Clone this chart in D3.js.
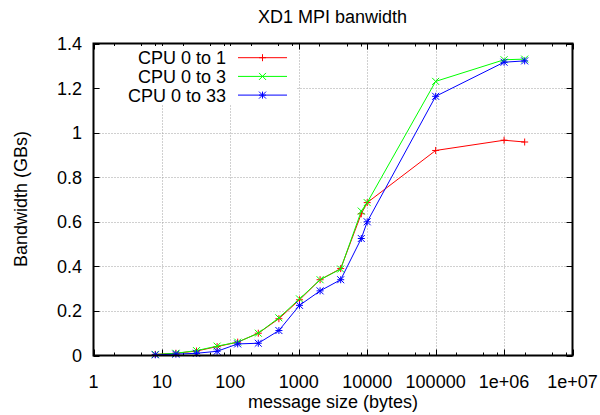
<!DOCTYPE html>
<html>
<head>
<meta charset="utf-8">
<script src="https://cdn.jsdelivr.net/npm/d3@7"></script>
<style>
  body { margin: 0; background: #fff; }
  svg { display: block; font-family: "Liberation Sans", Arial, Helvetica, sans-serif; }
</style>
</head>
<body>
<div id="chart"></div>
<script>
// message sizes (bytes) and bandwidth (GB/s) per CPU pair
var sizes = [8, 16, 32, 64, 128, 256, 512, 1024, 2048, 4096, 8192, 10000, 100000, 1000000, 2000000];
var cpu01 = [0.005, 0.01, 0.02, 0.04, 0.06, 0.10, 0.165, 0.25, 0.34, 0.39, 0.636, 0.686, 0.92, 0.966, 0.958];
var cpu03 = [0.005, 0.01, 0.022, 0.042, 0.06, 0.10, 0.169, 0.254, 0.34, 0.388, 0.648, 0.686, 1.23, 1.327, 1.33];
var cpu033 = [0.003, 0.006, 0.01, 0.019, 0.052, 0.055, 0.112, 0.225, 0.29, 0.34, 0.525, 0.60, 1.163, 1.316, 1.322];

var seriesNames = ["CPU 0 to 1", "CPU 0 to 3", "CPU 0 to 33"];
var seriesColors = ["#ff0000", "#00ff00", "#0000ff"];

var xTicks = [1, 10, 100, 1000, 10000, 100000, 1e6, 1e7];
var xTickLabels = ["1", "10", "100", "1000", "10000", "100000", "1e+06", "1e+07"];
var yTicks = [0, 0.2, 0.4, 0.6, 0.8, 1, 1.2, 1.4];
var yTickLabels = ["0", "0.2", "0.4", "0.6", "0.8", "1", "1.2", "1.4"];

var width = 600, height = 415;
var fontSize = 18;

var x = d3.scaleLog().domain([1, 1e7]).range([93.5, 572.5]);
var y = d3.scaleLinear().domain([0, 1.4]).range([355.5, 43.5]);

var svg = d3.select("#chart").append("svg")
  .attr("width", width)
  .attr("height", height);

// grid
var grid = svg.append("g")
  .attr("stroke", "#a0a0a0")
  .attr("stroke-width", 1)
  .attr("stroke-dasharray", "1,2");

grid.selectAll(".gx")
  .data(xTicks.slice(1, -1))
  .join("line")
    .attr("x1", d => Math.round(x(d)) + 0.5)
    .attr("x2", d => Math.round(x(d)) + 0.5)
    .attr("y1", y(0))
    .attr("y2", y(1.4));

grid.selectAll(".gy")
  .data(yTicks.slice(1, -1))
  .join("line")
    .attr("x1", x(1))
    .attr("x2", x(1e7))
    .attr("y1", d => Math.round(y(d)) + 0.5)
    .attr("y2", d => Math.round(y(d)) + 0.5);

// minor ticks at 2, 5, 8 of each decade
var minor = [];
for (var e = 0; e < 7; e++) {
  [2, 5, 8].forEach(m => minor.push(m * Math.pow(10, e)));
}

var ticks = svg.append("g").attr("stroke", "#000").attr("stroke-width", 1);

ticks.selectAll(".tb")
  .data(xTicks.concat(minor))
  .join("line")
    .attr("x1", d => Math.round(x(d)) + 0.5)
    .attr("x2", d => Math.round(x(d)) + 0.5)
    .attr("y1", y(0))
    .attr("y2", d => y(0) - (xTicks.includes(d) ? 6 : 3));

ticks.selectAll(".tt")
  .data(xTicks.concat(minor))
  .join("line")
    .attr("x1", d => Math.round(x(d)) + 0.5)
    .attr("x2", d => Math.round(x(d)) + 0.5)
    .attr("y1", y(1.4))
    .attr("y2", d => y(1.4) + (xTicks.includes(d) ? 6 : 3));

ticks.selectAll(".tl")
  .data(yTicks)
  .join("line")
    .attr("x1", x(1))
    .attr("x2", x(1) + 6)
    .attr("y1", d => Math.round(y(d)) + 0.5)
    .attr("y2", d => Math.round(y(d)) + 0.5);

ticks.selectAll(".tr")
  .data(yTicks)
  .join("line")
    .attr("x1", x(1e7))
    .attr("x2", x(1e7) - 6)
    .attr("y1", d => Math.round(y(d)) + 0.5)
    .attr("y2", d => Math.round(y(d)) + 0.5);

// tick labels
svg.append("g")
  .attr("font-size", fontSize)
  .attr("text-anchor", "middle")
  .selectAll("text")
  .data(xTicks)
  .join("text")
    .attr("x", d => x(d))
    .attr("y", 387.5)
    .text((d, i) => xTickLabels[i]);

svg.append("g")
  .attr("font-size", fontSize)
  .attr("text-anchor", "end")
  .selectAll("text")
  .data(yTicks)
  .join("text")
    .attr("x", 82)
    .attr("y", d => y(d) + 6.5)
    .text((d, i) => yTickLabels[i]);

// axis titles
svg.append("text")
  .attr("x", 332.5)
  .attr("y", 22.5)
  .attr("font-size", fontSize)
  .attr("text-anchor", "middle")
  .text("XD1 MPI banwidth");

svg.append("text")
  .attr("x", 333)
  .attr("y", 408)
  .attr("font-size", fontSize)
  .attr("text-anchor", "middle")
  .text("message size (bytes)");

svg.append("text")
  .attr("transform", "translate(27,199) rotate(-90)")
  .attr("font-size", fontSize)
  .attr("text-anchor", "middle")
  .text("Bandwidth (GBs)");

// point symbols: +, x, *
function symbol(g, type, cx, cy, color) {
  var r = 3.5;
  var segs = [];
  if (type === 0 || type === 2) segs.push([-r, 0, r, 0], [0, -r, 0, r]);
  if (type === 1 || type === 2) segs.push([-r, -r, r, r], [-r, r, r, -r]);
  segs.forEach(s => {
    g.append("line")
      .attr("x1", cx + s[0]).attr("y1", cy + s[1])
      .attr("x2", cx + s[2]).attr("y2", cy + s[3])
      .attr("stroke", color)
      .attr("stroke-width", 1);
  });
}

// legend background (opaque key box)
svg.append("rect")
  .attr("x", 100)
  .attr("y", 46)
  .attr("width", 197)
  .attr("height", 58)
  .attr("fill", "#fff");

var line = d3.line()
  .x(d => x(d[0]))
  .y(d => y(d[1]));

[cpu01, cpu03, cpu033].forEach((vals, k) => {
  var pts = sizes.map((s, i) => [s, vals[i]]);
  var g = svg.append("g");
  g.append("path")
    .attr("d", line(pts))
    .attr("fill", "none")
    .attr("stroke", seriesColors[k])
    .attr("stroke-width", 1);
  pts.forEach(p => symbol(g, k, x(p[0]), y(p[1]), seriesColors[k]));

  // legend entry
  var ly = 57.7 + k * 18.7;
  svg.append("text")
    .attr("x", 226)
    .attr("y", ly + 6.5)
    .attr("font-size", fontSize)
    .attr("text-anchor", "end")
    .text(seriesNames[k]);
  svg.append("line")
    .attr("x1", 238).attr("x2", 287)
    .attr("y1", ly).attr("y2", ly)
    .attr("stroke", seriesColors[k])
    .attr("stroke-width", 1);
  symbol(svg, k, 262.5, ly, seriesColors[k]);
});

// border
svg.append("rect")
  .attr("x", x(1))
  .attr("y", y(1.4))
  .attr("width", x(1e7) - x(1))
  .attr("height", y(0) - y(1.4))
  .attr("fill", "none")
  .attr("stroke", "#000")
  .attr("stroke-width", 2);
</script>
</body>
</html>
